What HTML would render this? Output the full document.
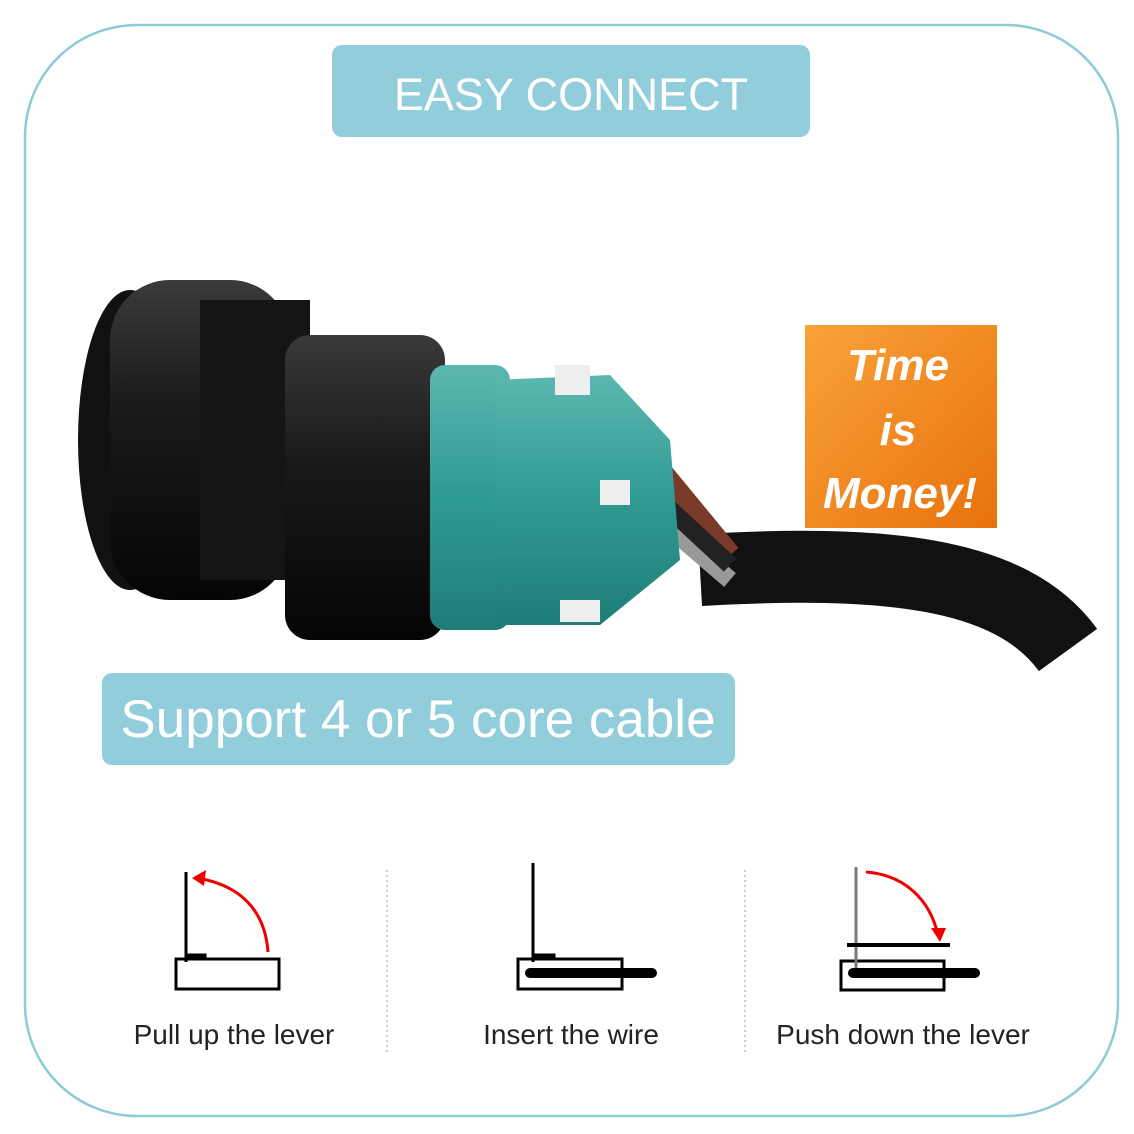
<!DOCTYPE html>
<html><head><meta charset="utf-8"><style>
body{margin:0;background:#fff;}
svg{display:block}
</style></head><body>
<svg width="1134" height="1134" viewBox="0 0 1134 1134" xmlns="http://www.w3.org/2000/svg">
<defs>
<linearGradient id="og" x1="0" y1="0" x2="1" y2="1"><stop offset="0" stop-color="#f9a23a"/><stop offset="1" stop-color="#e8720c"/></linearGradient>
<linearGradient id="bk" x1="0" y1="0" x2="0" y2="1"><stop offset="0" stop-color="#3a3a3a"/><stop offset=".4" stop-color="#1a1a1a"/><stop offset="1" stop-color="#050505"/></linearGradient>
<linearGradient id="tl" x1="0" y1="0" x2="0" y2="1"><stop offset="0" stop-color="#5bb8b0"/><stop offset=".5" stop-color="#2f9a92"/><stop offset="1" stop-color="#1f7d77"/></linearGradient>
</defs>
<rect x="25" y="25" width="1093" height="1091" rx="112" fill="#fff" stroke="#8ccbd8" stroke-width="2.5"/>
<rect x="332" y="45" width="478" height="92" rx="10" fill="#92cddc"/>
<text x="571" y="110" text-anchor="middle" font-family="Liberation Sans, sans-serif" font-size="45" fill="#fff">EASY CONNECT</text>
<!-- cable -->
<path d="M700 570 C880 560 1010 570 1068 650" stroke="#111" stroke-width="72" fill="none"/>
<path d="M660 470 L730 555" stroke="#7a3a2a" stroke-width="22"/>
<path d="M660 520 L730 580" stroke="#999" stroke-width="18"/>
<path d="M660 500 L730 565" stroke="#222" stroke-width="18"/>
<!-- gland -->
<ellipse cx="130" cy="440" rx="52" ry="150" fill="#111"/>
<rect x="110" y="280" width="180" height="320" rx="60" fill="url(#bk)"/>
<rect x="200" y="300" width="110" height="280" fill="#151515"/>
<rect x="285" y="335" width="160" height="305" rx="25" fill="url(#bk)"/>
<rect x="430" y="365" width="80" height="265" rx="15" fill="url(#tl)"/>
<path d="M495 380 L610 375 L670 440 L680 560 L600 625 L495 625 Z" fill="url(#tl)"/>
<rect x="555" y="365" width="35" height="30" fill="#eee"/>
<rect x="600" y="480" width="30" height="25" fill="#eee"/>
<rect x="560" y="600" width="40" height="22" fill="#eee"/>
<rect x="805" y="325" width="192" height="203" fill="url(#og)"/>
<g font-family="Liberation Sans, sans-serif" font-size="44" font-style="italic" font-weight="bold" fill="#fff" text-anchor="middle">
<text x="898" y="380">Time</text><text x="898" y="445">is</text><text x="900" y="508">Money!</text></g>
<rect x="102" y="673" width="633" height="92" rx="10" fill="#92cddc"/>
<text x="418" y="737" text-anchor="middle" font-family="Liberation Sans, sans-serif" font-size="53" fill="#fff">Support 4 or 5 core cable</text>
<!-- icons -->
<line x1="387" y1="870" x2="387" y2="1055" stroke="#999" stroke-dasharray="2,3"/>
<line x1="745" y1="870" x2="745" y2="1055" stroke="#999" stroke-dasharray="2,3"/>
<g stroke="#000" fill="none">
<rect x="176" y="959" width="103" height="30" stroke-width="3"/>
<line x1="186" y1="872" x2="186" y2="962" stroke-width="3"/>
<rect x="186" y="954" width="20" height="5" fill="#000"/>
<rect x="518" y="959" width="104" height="30" stroke-width="3"/>
<line x1="533" y1="863" x2="533" y2="962" stroke-width="3"/>
<rect x="533" y="954" width="22" height="5" fill="#000"/>
<line x1="530" y1="973" x2="652" y2="973" stroke-width="10" stroke-linecap="round"/>
<rect x="841" y="961" width="103" height="29" stroke-width="3"/>
<line x1="856" y1="867" x2="856" y2="968" stroke="#777" stroke-width="3"/>
<line x1="847" y1="945" x2="950" y2="945" stroke-width="4"/>
<line x1="853" y1="973" x2="975" y2="973" stroke-width="10" stroke-linecap="round"/>
</g>
<path d="M268 952 C265 910 240 885 197 878" stroke="#e00" stroke-width="3" fill="none"/>
<path d="M192 878 L206 870 L204 886 Z" fill="#e00"/>
<path d="M866 872 C905 875 930 900 938 935" stroke="#e00" stroke-width="3" fill="none"/>
<path d="M940 942 L931 928 L946 928 Z" fill="#e00"/>
<g font-family="Liberation Sans, sans-serif" font-size="28" fill="#222" text-anchor="middle">
<text x="234" y="1044">Pull up the lever</text>
<text x="571" y="1044">Insert the wire</text>
<text x="903" y="1044">Push down the lever</text></g>
</svg>
</body></html>
